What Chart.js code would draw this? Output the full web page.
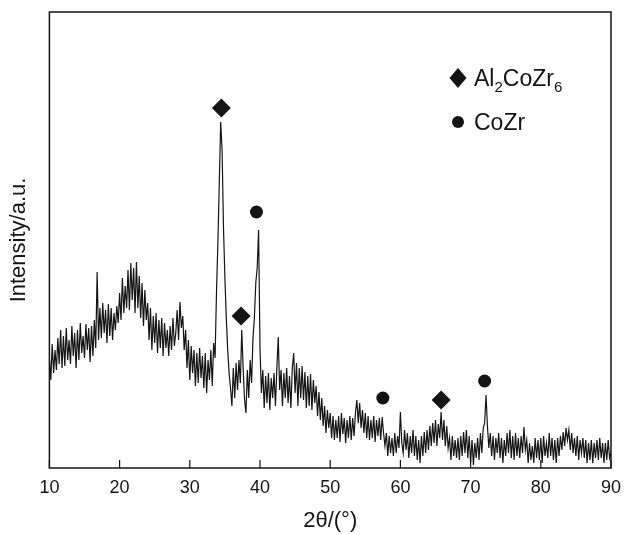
<!DOCTYPE html>
<html>
<head>
  <script src="https://cdn.jsdelivr.net/npm/chart.js"></script>
  <title>XRD pattern</title>
  <style>
    * { box-sizing: border-box; }
    html, body { margin: 0; padding: 0; background: #fff; }
    .wrap { width: 630px; height: 534px; }
  </style>
</head>
<body>
  <div class="wrap"><canvas id="xrd"></canvas></div>
  <script>
    // scan range, one value every 0.2 degree
    const start2theta = 10;
    const step2theta = 0.2;

    // intensity (a.u.), one row per degree
    const intensity = [
      110, 88, 124, 95, 118,    // 10
      98, 130, 104, 138, 100,   // 11
      132, 102, 140, 108, 128,  // 12
      104, 142, 112, 135, 100,  // 13
      138, 108, 145, 115, 132,  // 14
      110, 144, 118, 140, 106,  // 15
      142, 112, 148, 120, 196,  // 16
      128, 160, 130, 165, 135,  // 17
      158, 125, 164, 132, 160,  // 18
      128, 155, 138, 162, 145,  // 19
      175, 148, 190, 155, 182,  // 20
      160, 198, 158, 205, 168,  // 21
      200, 155, 206, 160, 192,  // 22
      150, 185, 142, 178, 148,  // 23
      165, 128, 160, 118, 152,  // 24
      125, 155, 115, 148, 120,  // 25
      150, 112, 145, 120, 138,  // 26
      112, 142, 118, 150, 122,  // 27
      135, 158, 128, 166, 140,  // 28
      152, 118, 138, 100, 128,  // 29
      88, 122, 95, 118, 82,     // 30
      115, 85, 120, 90, 112,    // 31
      80, 115, 75, 108, 88,     // 32
      118, 82, 125, 110, 175,   // 33
      225, 285, 346, 318, 240,  // 34
      190, 150, 118, 95, 80,    // 35
      62, 100, 70, 105, 78,     // 36
      108, 85, 138, 100, 68,    // 37
      55, 98, 70, 108, 85,      // 38
      130, 150, 185, 200, 238,  // 39
      120, 75, 98, 60, 92,      // 40
      65, 95, 58, 90, 70,       // 41
      95, 62, 100, 131, 78,     // 42
      98, 62, 95, 70, 100,      // 43
      65, 92, 60, 100, 115,     // 44
      75, 105, 62, 100, 70,     // 45
      102, 68, 96, 60, 92,      // 46
      62, 94, 58, 88, 65,       // 47
      82, 52, 76, 48, 70,       // 48
      42, 62, 35, 58, 40,       // 49
      55, 30, 52, 28, 48,       // 50
      30, 52, 26, 55, 34,       // 51
      50, 25, 48, 30, 52,       // 52
      28, 50, 32, 55, 68,       // 53
      45, 65, 40, 58, 35,       // 54
      55, 30, 52, 28, 48,       // 55
      30, 52, 26, 48, 32,       // 56
      50, 28, 51, 35, 22,       // 57
      35, 12, 32, 15, 30,       // 58
      12, 35, 15, 32, 20,       // 59
      56, 25, 15, 38, 18,       // 60
      35, 10, 32, 15, 38,       // 61
      12, 32, 8, 28, 5,         // 62
      32, 12, 36, 15, 38,       // 63
      18, 42, 22, 45, 25,       // 64
      48, 22, 44, 30, 56,       // 65
      28, 48, 22, 42, 20,       // 66
      30, 8, 32, 12, 28,        // 67
      10, 30, 8, 32, 12,        // 68
      36, 15, 38, 10, 32,       // 69
      5, 28, 3, 25, 10,         // 70
      30, 8, 35, 15, 40,        // 71
      45, 73, 42, 20, 35,       // 72
      12, 32, 8, 30, 15,        // 73
      35, 10, 30, 5, 28,        // 74
      12, 35, 15, 38, 10,       // 75
      32, 8, 35, 12, 30,        // 76
      10, 32, 15, 41, 18,       // 77
      28, 5, 25, 8, 22,         // 78
      5, 30, 10, 28, 8,         // 79
      30, 5, 32, 12, 25,        // 80
      10, 35, 12, 30, 8,        // 81
      28, 5, 30, 12, 32,        // 82
      18, 36, 22, 40, 28,       // 83
      38, 18, 35, 15, 30,       // 84
      12, 32, 8, 28, 15,        // 85
      30, 10, 28, 5, 25,        // 86
      8, 28, 5, 25, 10,         // 87
      28, 8, 30, 10, 25,        // 88
      5, 25, 8, 28, 10,         // 89
      15                        // 90
    ];

    // phase markers placed above the peaks
    const al2cozr6Theta = [34.5, 37.3, 65.8];
    const al2cozr6Level = [360, 152, 68];
    const cozrTheta = [39.5, 57.5, 72.0];
    const cozrLevel = [256, 70, 87];

    const xTicks = [10, 20, 30, 40, 50, 60, 70, 80, 90];

    const scan = intensity.map((v, i) => ({ x: +(start2theta + i * step2theta).toFixed(1), y: v }));
    const diamonds = al2cozr6Theta.map((t, i) => ({ x: t, y: al2cozr6Level[i] }));
    const circles = cozrTheta.map((t, i) => ({ x: t, y: cozrLevel[i] }));

    const ink = '#141414';
    const family = '"Liberation Sans", Arial, Helvetica, sans-serif';

    // box frame, inward ticks and the phase legend
    const frame = {
      id: 'frame',
      afterDraw(chart) {
        const { ctx, chartArea: a } = chart;
        const xs = chart.scales.x;
        ctx.save();
        ctx.strokeStyle = ink;
        ctx.lineWidth = 1.5;
        ctx.strokeRect(a.left, a.top, a.right - a.left, a.bottom - a.top);
        ctx.lineWidth = 1.2;
        xs.ticks.forEach(t => {
          const px = xs.getPixelForValue(t.value);
          ctx.beginPath();
          ctx.moveTo(px, a.bottom);
          ctx.lineTo(px, a.bottom - 8);
          ctx.stroke();
        });

        // legend
        ctx.fillStyle = ink;
        const lx = 458, ly1 = 78, ly2 = 122;
        ctx.beginPath();
        ctx.moveTo(lx, ly1 - 10);
        ctx.lineTo(lx + 8.5, ly1);
        ctx.lineTo(lx, ly1 + 10);
        ctx.lineTo(lx - 8.5, ly1);
        ctx.closePath();
        ctx.fill();
        ctx.beginPath();
        ctx.arc(lx, ly2, 6, 0, Math.PI * 2);
        ctx.fill();

        ctx.textBaseline = 'alphabetic';
        ctx.textAlign = 'left';
        const big = '23px ' + family, small = '15px ' + family;
        let x = 474;
        const base1 = ly1 + 8;
        const parts = [['Al', big, 0], ['2', small, 6], ['CoZr', big, 0], ['6', small, 6]];
        parts.forEach(([s, f, dy]) => {
          ctx.font = f;
          ctx.fillText(s, x, base1 + dy);
          x += ctx.measureText(s).width;
        });
        ctx.font = big;
        ctx.fillText('CoZr', 474, ly2 + 8);
        ctx.restore();
      }
    };

    new Chart(document.getElementById('xrd'), {
      type: 'line',
      data: {
        datasets: [
          {
            label: 'scan',
            data: scan,
            borderColor: ink,
            borderWidth: 1.2,
            pointRadius: 0,
            tension: 0,
            fill: false
          },
          {
            type: 'scatter',
            label: 'Al2CoZr6',
            data: diamonds,
            pointStyle: 'rectRot',
            pointRadius: 9.5,
            backgroundColor: ink,
            borderColor: ink,
            borderWidth: 0
          },
          {
            type: 'scatter',
            label: 'CoZr',
            data: circles,
            pointStyle: 'circle',
            pointRadius: 6.5,
            backgroundColor: ink,
            borderColor: ink,
            borderWidth: 0
          }
        ]
      },
      options: {
        responsive: true,
        maintainAspectRatio: false,
        animation: false,
        layout: { padding: { left: 3, right: 2, top: 12, bottom: 0 } },
        plugins: {
          legend: { display: false },
          tooltip: { enabled: false }
        },
        scales: {
          x: {
            type: 'linear',
            min: 10,
            max: 90,
            afterBuildTicks: s => { s.ticks = xTicks.map(v => ({ value: v })); },
            grid: { display: false, drawTicks: false },
            border: { display: false },
            ticks: {
              color: ink,
              padding: 9,
              font: { family: family, size: 18 }
            },
            title: {
              display: true,
              text: '2θ/(°)',
              color: ink,
              padding: { top: 0, bottom: 0 },
              font: { family: family, size: 22 }
            }
          },
          y: {
            min: 0,
            max: 456,
            grid: { display: false, drawTicks: false },
            border: { display: false },
            ticks: { display: false },
            title: {
              display: true,
              text: 'Intensity/a.u.',
              color: ink,
              padding: { top: 3, bottom: 17 },
              font: { family: family, size: 22 }
            }
          }
        }
      },
      plugins: [frame]
    });
  </script>
</body>
</html>
